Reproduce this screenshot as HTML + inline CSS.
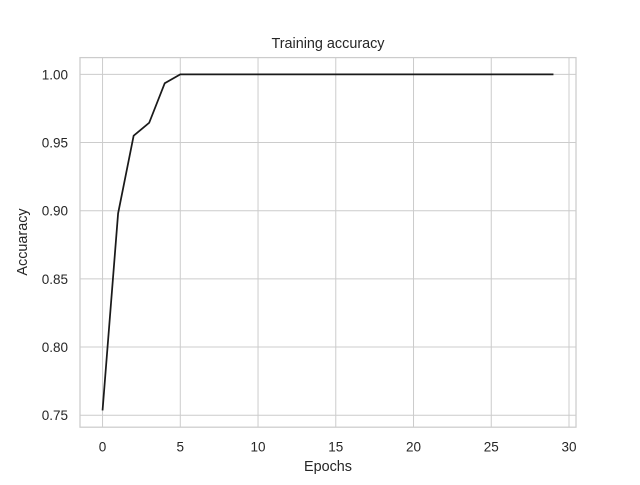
<!DOCTYPE html>
<html><head><meta charset="utf-8"><style>
body{margin:0;background:#fff;font-family:"Liberation Sans","DejaVu Sans",sans-serif}
</style></head><body>
<svg width="640" height="480" xmlns="http://www.w3.org/2000/svg">
<rect width="640" height="480" fill="#fff"/>
<g id="grid"></g>
<rect x="80" y="57.6" width="496" height="369.6" fill="none" stroke="#ccc" stroke-width="1.25"/>
<g id="ticks"></g>
<path id="line" fill="none" stroke="#1a1a1a" stroke-width="1.75"/>
<text x="328" y="48" text-anchor="middle" font-size="14.4" fill="#262626">Training accuracy</text>
<text x="328" y="471" text-anchor="middle" font-size="14.4" fill="#262626">Epochs</text>
<text transform="translate(27,242) rotate(-90)" text-anchor="middle" font-size="14.4" fill="#262626">Accuaracy</text>
</svg>
<script>
const epochs=[];for(let i=0;i<30;i++)epochs.push(i);
const accuracy=[0.7535,0.898,0.955,0.9645,0.9935,1,1,1,1,1,1,1,1,1,1,1,1,1,1,1,1,1,1,1,1,1,1,1,1,1];
const xTicks=[0,5,10,15,20,25,30];
const yTicks=[0.75,0.80,0.85,0.90,0.95,1.00];
const L=80,R=576,T=57.6,B=427.2;
const xmin=-1.45,xmax=30.45;
const ymin=0.7412,ymax=1.0123;
const sx=v=>L+(v-xmin)/(xmax-xmin)*(R-L);
const sy=v=>B-(v-ymin)/(ymax-ymin)*(B-T);
const NS="http://www.w3.org/2000/svg";
const grid=document.getElementById('grid'),ticks=document.getElementById('ticks');
xTicks.forEach(t=>{
 const l=document.createElementNS(NS,'line');
 l.setAttribute('x1',sx(t));l.setAttribute('x2',sx(t));l.setAttribute('y1',T);l.setAttribute('y2',B);
 l.setAttribute('stroke','#ccc');l.setAttribute('stroke-width','1');
 
 
 grid.appendChild(l);
 const tx=document.createElementNS(NS,'text');
 tx.setAttribute('x',sx(t));tx.setAttribute('y',B+24.5);tx.setAttribute('text-anchor','middle');
 tx.setAttribute('font-size','13.5');tx.setAttribute('fill','#262626');tx.textContent=t;
 
 
 ticks.appendChild(tx);
});
yTicks.forEach(t=>{
 const l=document.createElementNS(NS,'line');
 l.setAttribute('x1',L);l.setAttribute('x2',R);l.setAttribute('y1',sy(t));l.setAttribute('y2',sy(t));
 l.setAttribute('stroke','#ccc');l.setAttribute('stroke-width','1');
 
 
 grid.appendChild(l);
 const tx=document.createElementNS(NS,'text');
 tx.setAttribute('x',L-12);tx.setAttribute('y',sy(t)+5);tx.setAttribute('text-anchor','end');
 tx.setAttribute('font-size','13.5');tx.setAttribute('fill','#262626');tx.textContent=t.toFixed(2);
 
 
 ticks.appendChild(tx);
});
document.getElementById('line').setAttribute('d',accuracy.map((v,i)=>(i?'L':'M')+sx(epochs[i])+','+sy(v)).join(''));
</script>
</body></html>
